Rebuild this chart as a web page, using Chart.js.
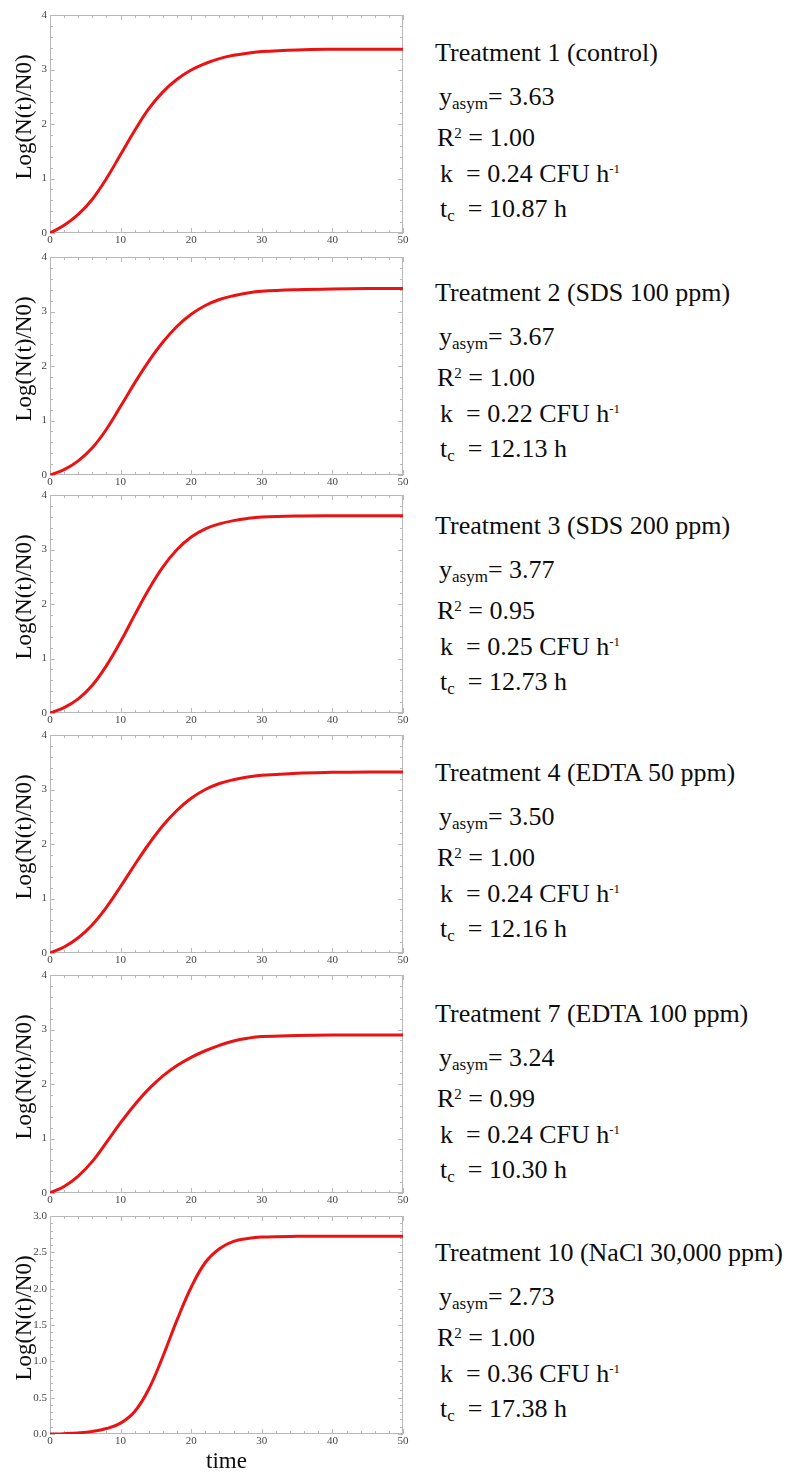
<!DOCTYPE html>
<html>
<head>
<meta charset="utf-8">
<script src="https://cdn.jsdelivr.net/npm/chart.js@4.4.1/dist/chart.umd.min.js"></script>
<style>
  body { margin: 0; background: #fff; width: 790px; height: 1473px; position: relative; overflow: hidden;
         font-family: "Liberation Serif", "DejaVu Serif", serif; }
  .panel { position: absolute; left: 0; width: 420px; }
  .txt { position: absolute; font-size: 26px; line-height: 26px; color: #0d0d0d; white-space: nowrap; }
  .txt sub { font-size: 17px; vertical-align: -4px; line-height: 0; }
  .txt sup { font-size: 15px; vertical-align: 8px; line-height: 0; }
  .txt sup.small { font-size: 13px; vertical-align: 9px; }
</style>
</head>
<body>
<script>
// time axis (h)
const timeHours = [0, 2, 4, 6, 8, 10, 12, 14, 16, 18, 20, 22, 24, 26, 28, 30, 35, 40, 45, 50];

// fitted curves, Log(N(t)/N0)
const treatment1 = [0, 0.14, 0.34, 0.62, 1.0, 1.44, 1.88, 2.28, 2.59, 2.82, 2.99, 3.11, 3.2, 3.26, 3.3, 3.33, 3.36, 3.37, 3.37, 3.37];
const treatment2 = [0, 0.1, 0.26, 0.5, 0.84, 1.26, 1.69, 2.09, 2.44, 2.73, 2.95, 3.11, 3.22, 3.29, 3.34, 3.37, 3.4, 3.415, 3.42, 3.42];
const treatment3 = [0, 0.1, 0.26, 0.51, 0.87, 1.31, 1.8, 2.27, 2.68, 3.0, 3.23, 3.38, 3.47, 3.53, 3.57, 3.595, 3.615, 3.62, 3.62, 3.62];
const treatment4 = [0, 0.11, 0.28, 0.52, 0.84, 1.22, 1.62, 2.0, 2.34, 2.62, 2.84, 3.0, 3.11, 3.18, 3.23, 3.26, 3.3, 3.315, 3.32, 3.32];
const treatment7 = [0, 0.12, 0.31, 0.58, 0.93, 1.29, 1.62, 1.91, 2.15, 2.34, 2.49, 2.61, 2.71, 2.79, 2.84, 2.87, 2.89, 2.9, 2.9, 2.9];
const treatment10 = [0, 0.005, 0.015, 0.035, 0.075, 0.15, 0.31, 0.62, 1.07, 1.57, 2.02, 2.36, 2.55, 2.65, 2.69, 2.71, 2.72, 2.72, 2.72, 2.72];

const xTicks = [0, 10, 20, 30, 40, 50];
const yMaxes = [4, 4, 4, 4, 4, 3];
const yMajorSteps = [1, 1, 1, 1, 1, 0.5];
const yTitle = 'Log(N(t)/N0)';

const treatmentNames = [
    'Treatment 1 (control)',
    'Treatment 2 (SDS 100 ppm)',
    'Treatment 3 (SDS 200 ppm)',
    'Treatment 4 (EDTA 50 ppm)',
    'Treatment 7 (EDTA 100 ppm)',
    'Treatment 10 (NaCl 30,000 ppm)'
];
const yAsym = ['3.63', '3.67', '3.77', '3.50', '3.24', '2.73'];
const rSquared = ['1.00', '1.00', '0.95', '1.00', '0.99', '1.00'];
const kRate = ['0.24', '0.22', '0.25', '0.24', '0.24', '0.36'];
const tCrit = ['10.87', '12.13', '12.73', '12.16', '10.30', '17.38'];

const allSeries = [treatment1, treatment2, treatment3, treatment4, treatment7, treatment10];

// page layout
const panelTops = [15, 257, 495, 735, 975, 1216];
const titleBaselines = [62, 302, 535, 782, 1023, 1262];
const plotHeight = 218;
const padTop = 12;

// Mathematica-like frame with inward ticks on all four sides, plus the y title
const frameTicks = {
    id: 'frameTicks',
    beforeDatasetsDraw(chart, args, opts) {
        const { ctx, chartArea: a } = chart;
        const x = chart.scales.x, y = chart.scales.y;
        ctx.save();
        ctx.strokeStyle = '#b8b8b8';
        ctx.lineWidth = 1;
        ctx.strokeRect(a.left + 0.5, a.top + 0.5, a.right - a.left - 1, a.bottom - a.top - 1);
        ctx.beginPath();
        const nx = Math.round((x.max - x.min) / opts.xMinor);
        for (let n = 0; n <= nx; n++) {
            const v = x.min + n * opts.xMinor;
            const len = n % opts.xPer === 0 ? 5 : 3;
            const px = Math.round(x.getPixelForValue(v)) + 0.5;
            ctx.moveTo(px, a.bottom); ctx.lineTo(px, a.bottom - len);
            ctx.moveTo(px, a.top); ctx.lineTo(px, a.top + len);
        }
        const ny = Math.round((y.max - y.min) / opts.yMinor);
        for (let n = 0; n <= ny; n++) {
            const v = y.min + n * opts.yMinor;
            const len = n % opts.yPer === 0 ? 5 : 3;
            const py = Math.round(y.getPixelForValue(v)) + 0.5;
            ctx.moveTo(a.left, py); ctx.lineTo(a.left + len, py);
            ctx.moveTo(a.right, py); ctx.lineTo(a.right - len, py);
        }
        ctx.stroke();

        // y axis title, sits a little above the middle of the frame
        ctx.translate(25, (a.top + a.bottom) / 2 - 7);
        ctx.rotate(-Math.PI / 2);
        ctx.fillStyle = '#0d0d0d';
        ctx.font = '23px "Liberation Serif"';
        ctx.textAlign = 'center';
        ctx.textBaseline = 'middle';
        ctx.fillText(opts.title, 0, 0);
        ctx.restore();
    }
};

function makePanel(i) {
    const last = i === allSeries.length - 1;
    const top = panelTops[i] - padTop;
    const h = last ? 272 : 250;

    const wrap = document.createElement('div');
    wrap.className = 'panel';
    wrap.style.top = top + 'px';
    wrap.style.height = h + 'px';
    const canvas = document.createElement('canvas');
    canvas.width = 420;
    canvas.height = h;
    wrap.appendChild(canvas);
    document.body.appendChild(wrap);

    const points = timeHours.map((t, j) => ({ x: t, y: allSeries[i][j] }));
    const decimals = yMajorSteps[i] < 1 ? 1 : 0;

    new Chart(canvas, {
        type: 'line',
        data: {
            datasets: [{
                data: points,
                borderColor: 'rgb(234, 18, 18)',
                borderWidth: 3,
                pointRadius: 0,
                fill: false,
                tension: 0.4
            }]
        },
        options: {
            responsive: false,
            animation: false,
            events: [],
            layout: { padding: { top: padTop, right: 17, left: 0, bottom: 0 } },
            plugins: {
                legend: { display: false },
                tooltip: { enabled: false },
                frameTicks: { xMinor: 2, xPer: 5, yMinor: yMajorSteps[i] / 5, yPer: 5, title: yTitle }
            },
            scales: {
                x: {
                    type: 'linear',
                    min: 0,
                    max: 50,
                    afterBuildTicks: s => { s.ticks = xTicks.map(v => ({ value: v })) },
                    afterFit: s => { s.height = h - padTop - plotHeight },
                    grid: { display: false, drawTicks: false },
                    border: { display: false },
                    ticks: {
                        padding: 1,
                        maxRotation: 0,
                        color: '#444',
                        font: { family: 'Liberation Serif', size: 11 }
                    },
                    title: {
                        display: last,
                        text: 'time',
                        color: '#0d0d0d',
                        padding: 0,
                        font: { family: 'Liberation Serif', size: 23 }
                    }
                },
                y: {
                    min: 0,
                    max: yMaxes[i],
                    afterFit: s => { s.width = 50 },
                    grid: { display: false, drawTicks: false },
                    border: { display: false },
                    ticks: {
                        stepSize: yMajorSteps[i],
                        padding: 3,
                        color: '#444',
                        font: { family: 'Liberation Serif', size: 11 },
                        callback: v => v.toFixed(decimals)
                    }
                }
            }
        },
        plugins: [frameTicks]
    });
}

function addLine(html, x, baseline) {
    const d = document.createElement('div');
    d.className = 'txt';
    d.style.left = x + 'px';
    d.style.top = (baseline - 22) + 'px';
    d.innerHTML = html;
    document.body.appendChild(d);
}

for (let i = 0; i < allSeries.length; i++) {
    makePanel(i);
    const b = titleBaselines[i];
    addLine(treatmentNames[i], 435, b);
    addLine('y<sub>asym</sub>= ' + yAsym[i], 439, b + 44);
    addLine('R<sup>2</sup> = ' + rSquared[i], 437, b + 85);
    addLine('k&nbsp; = ' + kRate[i] + ' CFU h<sup class="small">-1</sup>', 440, b + 121);
    addLine('t<sub>c</sub>&nbsp; = ' + tCrit[i] + ' h', 440, b + 156);
}
</script>
</body>
</html>
